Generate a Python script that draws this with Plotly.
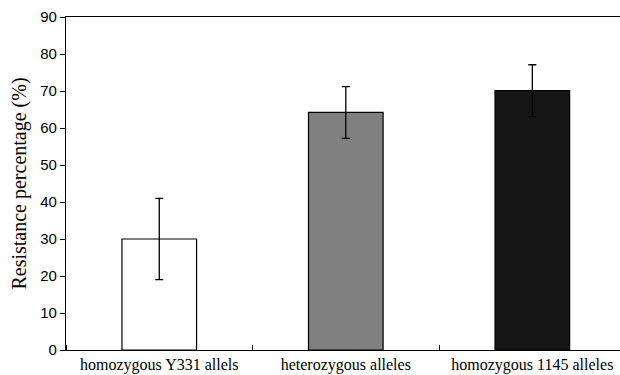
import plotly.graph_objects as go

categories = ["homozygous Y331 allels", "heterozygous alleles", "homozygous 1145 alleles"]
values = [30.0, 64.2, 70.1]
errors = [11.0, 7.0, 7.0]
colors = ["#ffffff", "#808080", "#161616"]
y_ticks = [0, 10, 20, 30, 40, 50, 60, 70, 80, 90]

positions = list(range(len(categories)))

fig = go.Figure()
fig.add_trace(go.Bar(
    x=positions,
    y=values,
    width=0.4,
    marker=dict(color=colors, line=dict(color="#000000", width=1.2)),
    error_y=dict(type="data", array=errors, visible=True, color="#000000",
                 thickness=1.3, width=4),
    showlegend=False,
))

fig.update_layout(
    width=620,
    height=375,
    margin=dict(l=66, r=0, t=17, b=25),
    paper_bgcolor="white",
    plot_bgcolor="white",
    xaxis=dict(
        range=[-0.5, 2.47],
        tickmode="array",
        tickvals=positions,
        ticktext=categories,
        ticks="",
        showgrid=False,
        zeroline=False,
        showline=True,
        linecolor="#000000",
        linewidth=1.3,
        mirror=True,
        tickfont=dict(family="Liberation Serif", size=16, color="#000000"),
        minor=dict(tick0=0.5, dtick=1, ticks="inside", ticklen=5,
                   tickcolor="#000000", tickwidth=1.3, showgrid=False),
    ),
    yaxis=dict(
        range=[0, 90],
        tickmode="array",
        tickvals=y_ticks,
        ticks="outside",
        ticklen=5,
        tickwidth=1.3,
        tickcolor="#000000",
        showgrid=False,
        zeroline=False,
        showline=True,
        linecolor="#000000",
        linewidth=1.3,
        tickfont=dict(family="Liberation Sans", size=15, color="#000000"),
        title=dict(text="Resistance percentage (%)",
                   font=dict(family="Liberation Serif", size=20, color="#000000"),
                   standoff=8),
    ),
)

fig.write_html("out.html")
